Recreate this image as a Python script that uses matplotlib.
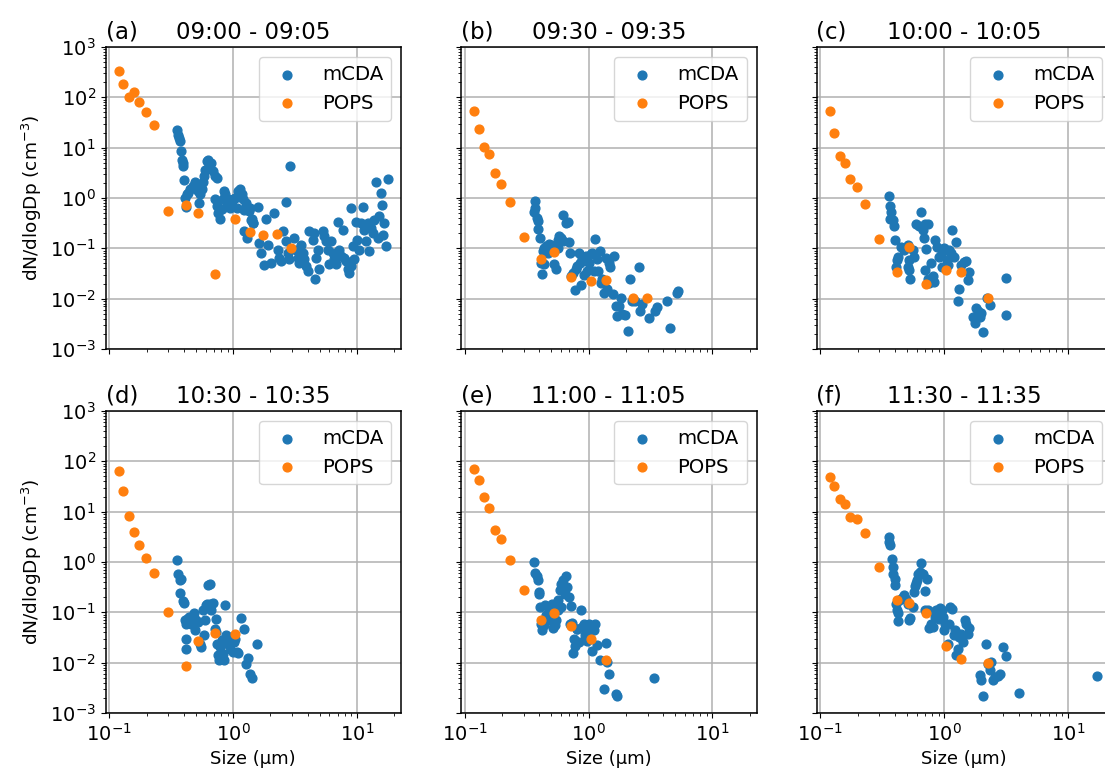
import numpy as np
import matplotlib
matplotlib.use("Agg")
import matplotlib.pyplot as plt

# POPS bin centres (um), shared by all panels; nan = no count in that bin
pops_size = [0.119, 0.129, 0.143, 0.157, 0.175, 0.197, 0.23, 0.30,
             0.412, 0.524, 0.714, 1.035, 1.37, 1.75, 2.28, 2.96]
nan = np.nan
pops_a = [334, 182, 102, 126, 79, 51, 28.4, 0.55, 0.73, 0.50, 0.031, 0.39, 0.21, 0.18, 0.196, 0.10]
pops_b = [53.5, 23.2, 10.2, 7.5, 3.2, 1.89, 0.85, 0.17, 0.060, 0.084, 0.027, 0.0225, 0.0236, nan, 0.0102, 0.0104]
pops_c = [53, 19.7, 6.8, 4.93, 2.34, 1.68, 0.76, 0.153, 0.0335, 0.107, 0.0197, 0.0373, 0.0346, nan, 0.0101, nan]
pops_d = [65, 26, 8.2, 4.0, 2.18, 1.2, 0.60, 0.10, 0.0086, 0.027, 0.039, 0.037, nan, nan, nan, nan]
pops_e = [70, 42, 19.6, 12, 4.25, 2.86, 1.1, 0.278, 0.069, 0.097, 0.053, 0.029, 0.0115, nan, nan, nan]
pops_f = [48.9, 32, 17.9, 14, 7.96, 7.15, 3.77, 0.81, 0.173, 0.153, 0.097, 0.0218, 0.0116, nan, 0.0098, nan]

# mCDA (size um, dN/dlogDp)
mcda_a = [(0.349, 22.7), (0.36, 18.1), (0.367, 15.5), (0.371, 13.3), (0.376, 8.5), (0.383, 5.8),
          (0.39, 4.98), (0.395, 4.28), (0.40, 2.23), (0.407, 0.985), (0.415, 0.675), (0.42, 1.18),
          (0.434, 1.27), (0.448, 1.48), (0.461, 1.60), (0.476, 1.73), (0.491, 2.07), (0.506, 1.73),
          (0.522, 1.37), (0.532, 0.81), (0.538, 1.18), (0.555, 1.48), (0.573, 2.07), (0.583, 2.72),
          (0.591, 3.68), (0.61, 5.37), (0.628, 5.8), (0.64, 4.61), (0.656, 4.98), (0.681, 3.41),
          (0.711, 2.72), (0.734, 2.52), (0.711, 0.94), (0.734, 0.695), (0.757, 0.51), (0.78, 0.38),
          (0.805, 0.60), (0.83, 0.94), (0.841, 1.37), (0.857, 1.18), (0.884, 0.81), (0.911, 0.94),
          (0.94, 0.645), (0.97, 0.873), (1.0, 0.94), (1.03, 0.985), (1.064, 0.645), (1.097, 1.37),
          (1.13, 1.48), (1.17, 1.18), (1.20, 0.94), (1.24, 0.645), (1.28, 0.81), (1.32, 0.60),
          (1.36, 0.645), (1.43, 0.38), (1.45, 0.326), (1.23, 0.58), (1.35, 0.54), (1.39, 0.37),
          (1.44, 0.32), (1.23, 0.217), (1.30, 0.16), (2.9, 4.28),
          (1.58, 0.67), (1.63, 0.127), (1.68, 0.081), (1.85, 0.38), (1.90, 0.118), (1.79, 0.046),
          (2.02, 0.051), (2.15, 0.50), (2.29, 0.094), (2.36, 0.064), (2.44, 0.055), (2.52, 0.217),
          (2.68, 0.82), (2.68, 0.137), (2.76, 0.081), (2.85, 0.060), (3.12, 0.16), (3.22, 0.094),
          (3.32, 0.064), (3.43, 0.051), (3.54, 0.118), (3.65, 0.081), (3.76, 0.060), (3.88, 0.044),
          (4.00, 0.035), (4.13, 0.217), (4.39, 0.148), (4.53, 0.20), (4.67, 0.064), (4.82, 0.094),
          (4.97, 0.038), (4.55, 0.025), (5.28, 0.217), (5.45, 0.173), (5.62, 0.137), (5.80, 0.094),
          (5.98, 0.048), (6.17, 0.137), (6.37, 0.081), (6.56, 0.060), (6.77, 0.048), (6.98, 0.34),
          (7.20, 0.094), (7.43, 0.0695), (7.66, 0.233), (7.90, 0.064), (8.15, 0.055), (8.41, 0.038),
          (8.67, 0.033), (8.95, 0.044), (8.95, 0.625), (9.23, 0.109), (9.52, 0.060), (9.82, 0.34),
          (10.1, 0.148), (10.4, 0.094), (10.8, 0.32), (11.1, 0.67), (11.5, 0.233), (11.8, 0.137),
          (12.2, 0.32), (12.6, 0.087), (13.0, 0.25), (13.4, 0.20), (13.8, 0.37), (14.2, 2.1),
          (14.7, 0.16), (15.1, 0.43), (15.6, 1.24), (15.8, 0.72), (16.1, 0.186), (16.6, 0.32),
          (17.1, 0.109), (17.7, 2.44)]

mcda_b = [(0.371, 0.86), (0.364, 0.52), (0.371, 0.635), (0.383, 0.40), (0.392, 0.346), (0.388, 0.244),
          (0.402, 0.162), (0.412, 0.052), (0.42, 0.0315), (0.433, 0.048), (0.425, 0.088), (0.438, 0.10),
          (0.452, 0.111), (0.466, 0.095), (0.472, 0.079), (0.481, 0.12), (0.496, 0.114), (0.511, 0.103),
          (0.527, 0.048), (0.544, 0.0395), (0.561, 0.146), (0.568, 0.10), (0.578, 0.175), (0.596, 0.162),
          (0.615, 0.139), (0.626, 0.47), (0.654, 0.32), (0.683, 0.33), (0.695, 0.135), (0.708, 0.079),
          (0.726, 0.0283), (0.753, 0.0329), (0.773, 0.015), (0.787, 0.038), (0.811, 0.0446), (0.836, 0.079),
          (0.851, 0.052), (0.862, 0.0185), (0.889, 0.064), (0.918, 0.0292), (0.946, 0.072), (0.975, 0.0355),
          (1.006, 0.052), (1.038, 0.076), (1.07, 0.079), (1.10, 0.0355), (1.12, 0.15), (1.16, 0.06),
          (1.19, 0.0355), (1.23, 0.088), (1.25, 0.0209), (1.29, 0.0243), (1.33, 0.0127), (1.37, 0.064),
          (1.41, 0.0156), (1.46, 0.052), (1.50, 0.042), (1.57, 0.0123), (1.60, 0.072), (1.65, 0.0072),
          (1.70, 0.0046), (1.75, 0.0072), (1.81, 0.0101), (1.86, 0.0049), (1.98, 0.0047), (2.07, 0.0023),
          (2.17, 0.0243), (2.24, 0.0091), (2.38, 0.0091), (2.53, 0.0432), (2.61, 0.0057), (2.69, 0.0078),
          (3.05, 0.0041), (3.45, 0.0057), (3.56, 0.0067), (4.28, 0.0091), (4.55, 0.0026), (5.14, 0.0132),
          (5.31, 0.0139)]

mcda_c = [(0.355, 1.09), (0.364, 0.70), (0.373, 0.535), (0.364, 0.39), (0.384, 0.366), (0.392, 0.278),
          (0.397, 0.147), (0.449, 0.108), (0.478, 0.093), (0.427, 0.0686), (0.417, 0.0589), (0.409, 0.0421),
          (0.508, 0.117), (0.524, 0.0589), (0.508, 0.0421), (0.524, 0.0373), (0.534, 0.0244), (0.558, 0.093),
          (0.575, 0.0686), (0.594, 0.31), (0.624, 0.278), (0.644, 0.535), (0.672, 0.232), (0.685, 0.158),
          (0.702, 0.31), (0.715, 0.096), (0.738, 0.31), (0.694, 0.0373), (0.738, 0.0244), (0.761, 0.0203),
          (0.785, 0.0506), (0.809, 0.0284), (0.835, 0.0219), (0.851, 0.147), (0.872, 0.108), (0.90, 0.0686),
          (0.946, 0.074), (0.964, 0.0421), (0.993, 0.10), (1.018, 0.093), (1.057, 0.0589), (1.083, 0.0469),
          (1.104, 0.093), (1.14, 0.080), (1.16, 0.232), (1.20, 0.0686), (1.24, 0.136), (1.29, 0.0088),
          (1.33, 0.0154), (1.37, 0.0469), (1.44, 0.0546), (1.51, 0.0562), (1.55, 0.0236), (1.60, 0.0346),
          (1.71, 0.0044), (1.76, 0.0033), (1.82, 0.0065), (1.87, 0.0056), (1.93, 0.0044), (1.99, 0.0052),
          (2.05, 0.0022), (2.23, 0.0102), (2.33, 0.0075), (3.17, 0.0048), (3.17, 0.0255)]

mcda_d = [(0.354, 1.08), (0.358, 0.586), (0.37, 0.432), (0.381, 0.467), (0.374, 0.242), (0.394, 0.168),
          (0.401, 0.156), (0.406, 0.069), (0.418, 0.0595), (0.426, 0.075), (0.44, 0.081), (0.445, 0.069),
          (0.459, 0.0595), (0.48, 0.097), (0.489, 0.0438), (0.505, 0.069), (0.52, 0.064), (0.537, 0.0239),
          (0.553, 0.0205), (0.571, 0.11), (0.582, 0.0349), (0.589, 0.069), (0.60, 0.138), (0.615, 0.149),
          (0.631, 0.344), (0.647, 0.371), (0.655, 0.149), (0.667, 0.11), (0.688, 0.153), (0.71, 0.0473),
          (0.723, 0.075), (0.732, 0.0406), (0.746, 0.0239), (0.755, 0.014), (0.769, 0.0115), (0.789, 0.0205),
          (0.809, 0.0286), (0.83, 0.0151), (0.845, 0.0115), (0.855, 0.0278), (0.866, 0.142), (0.883, 0.0349),
          (0.91, 0.0239), (0.94, 0.019), (0.968, 0.0324), (0.988, 0.0163), (1.012, 0.0258), (1.032, 0.030),
          (1.064, 0.0163), (1.10, 0.0158), (1.154, 0.077), (1.23, 0.046), (1.28, 0.0093), (1.32, 0.0126),
          (1.36, 0.0059), (1.43, 0.005), (1.55, 0.0239), (0.413, 0.030), (0.413, 0.019)]

mcda_e = [(0.364, 1.0), (0.371, 0.60), (0.381, 0.527), (0.388, 0.446), (0.395, 0.254), (0.40, 0.228),
          (0.405, 0.128), (0.412, 0.0595), (0.42, 0.0453), (0.433, 0.0552), (0.443, 0.138), (0.452, 0.087),
          (0.466, 0.069), (0.481, 0.11), (0.501, 0.149), (0.519, 0.0496), (0.532, 0.0552), (0.544, 0.069),
          (0.561, 0.11), (0.568, 0.179), (0.585, 0.274), (0.596, 0.128), (0.603, 0.371), (0.62, 0.446),
          (0.64, 0.228), (0.654, 0.527), (0.673, 0.319), (0.695, 0.202), (0.708, 0.0595), (0.726, 0.132),
          (0.74, 0.0614), (0.763, 0.030), (0.78, 0.0211), (0.798, 0.0473), (0.811, 0.0473), (0.836, 0.0258),
          (0.862, 0.11), (0.889, 0.0512), (0.918, 0.0595), (0.932, 0.0349), (0.975, 0.0265), (1.006, 0.0595),
          (1.025, 0.0438), (1.07, 0.0168), (1.10, 0.0438), (1.12, 0.0578), (1.17, 0.0221), (1.23, 0.0115),
          (1.33, 0.003), (1.37, 0.0246), (1.41, 0.0103), (1.46, 0.0059), (1.65, 0.0024), (1.70, 0.0022),
          (3.40, 0.005), (0.753, 0.0158)]

mcda_f = [(0.355, 3.14), (0.361, 2.49), (0.368, 2.14), (0.378, 1.13), (0.384, 0.796), (0.389, 0.586),
          (0.397, 0.467), (0.401, 0.344), (0.409, 0.149), (0.417, 0.11), (0.422, 0.097), (0.427, 0.066),
          (0.435, 0.173), (0.449, 0.187), (0.463, 0.202), (0.478, 0.218), (0.493, 0.187), (0.508, 0.149),
          (0.524, 0.069), (0.534, 0.077), (0.558, 0.128), (0.568, 0.254), (0.582, 0.329), (0.594, 0.383),
          (0.605, 0.432), (0.62, 0.586), (0.64, 0.633), (0.651, 0.955), (0.672, 0.586), (0.694, 0.261),
          (0.702, 0.113), (0.728, 0.467), (0.738, 0.11), (0.761, 0.0496), (0.785, 0.0595), (0.809, 0.0512),
          (0.824, 0.102), (0.846, 0.081), (0.867, 0.11), (0.889, 0.094), (0.907, 0.075), (0.934, 0.124),
          (0.965, 0.11), (0.986, 0.081), (1.0, 0.0438), (1.018, 0.0595), (1.07, 0.0239), (1.09, 0.0595),
          (1.125, 0.128), (1.165, 0.118), (1.20, 0.0349), (1.23, 0.0453), (1.25, 0.014), (1.29, 0.019),
          (1.33, 0.0324), (1.37, 0.0377), (1.41, 0.0258), (1.46, 0.069), (1.51, 0.0595), (1.55, 0.0377),
          (1.60, 0.0496), (1.93, 0.0056), (1.99, 0.0046), (2.05, 0.0022), (2.18, 0.0239), (2.25, 0.0093),
          (2.33, 0.0073), (2.40, 0.0103), (2.47, 0.0046), (2.58, 0.0052), (2.71, 0.0055), (2.85, 0.006),
          (2.98, 0.0205), (3.17, 0.0134), (4.01, 0.0025), (17.3, 0.0054)]

letters = ['(a)', '(b)', '(c)', '(d)', '(e)', '(f)']
times = ['09:00 - 09:05', '09:30 - 09:35', '10:00 - 10:05',
         '10:30 - 10:35', '11:00 - 11:05', '11:30 - 11:35']
mcda_all = [mcda_a, mcda_b, mcda_c, mcda_d, mcda_e, mcda_f]
pops_all = [pops_a, pops_b, pops_c, pops_d, pops_e, pops_f]

plt.rcParams['axes.linewidth'] = 1.1
plt.rcParams['grid.linewidth'] = 1.1

fig, axes = plt.subplots(2, 3, sharex=True, sharey=True, figsize=(11.05, 7.75), dpi=100)

W, H = 1105, 775
lefts = [105.5, 461, 816.5]
tops = [47, 411]
aw, ah = 295.5, 302

for k, ax in enumerate(axes.flat):
    r, c = divmod(k, 3)
    ax.set_position([lefts[c] / W, (H - tops[r] - ah) / H, aw / W, ah / H])
    m = np.array(mcda_all[k])
    ax.scatter(m[:, 0], m[:, 1], s=40, color='C0', label='mCDA', zorder=2)
    ax.scatter(pops_size, pops_all[k], s=40, color='C1', label='POPS', zorder=3)
    ax.set_xscale('log')
    ax.set_yscale('log')
    ax.grid(True, which='major', color='#b0b0b0')
    ax.set_axisbelow(True)
    ax.set_title(letters[k], loc='left', fontsize=16.5)
    ax.set_title(times[k], fontsize=16.5)
    ax.legend(loc='upper right', fontsize=14.2)
    ax.tick_params(labelsize=14)
    if c == 0:
        ax.set_ylabel('dN/dlogDp (cm$^{-3}$)', fontsize=13.3)
    if r == 1:
        ax.set_xlabel('Size (µm)', fontsize=13)

axes[0, 0].set_ylim(1e-3, 1e3)
axes[0, 0].set_xlim(0.093, 22.7)

fig.savefig('out.png', dpi=100)
